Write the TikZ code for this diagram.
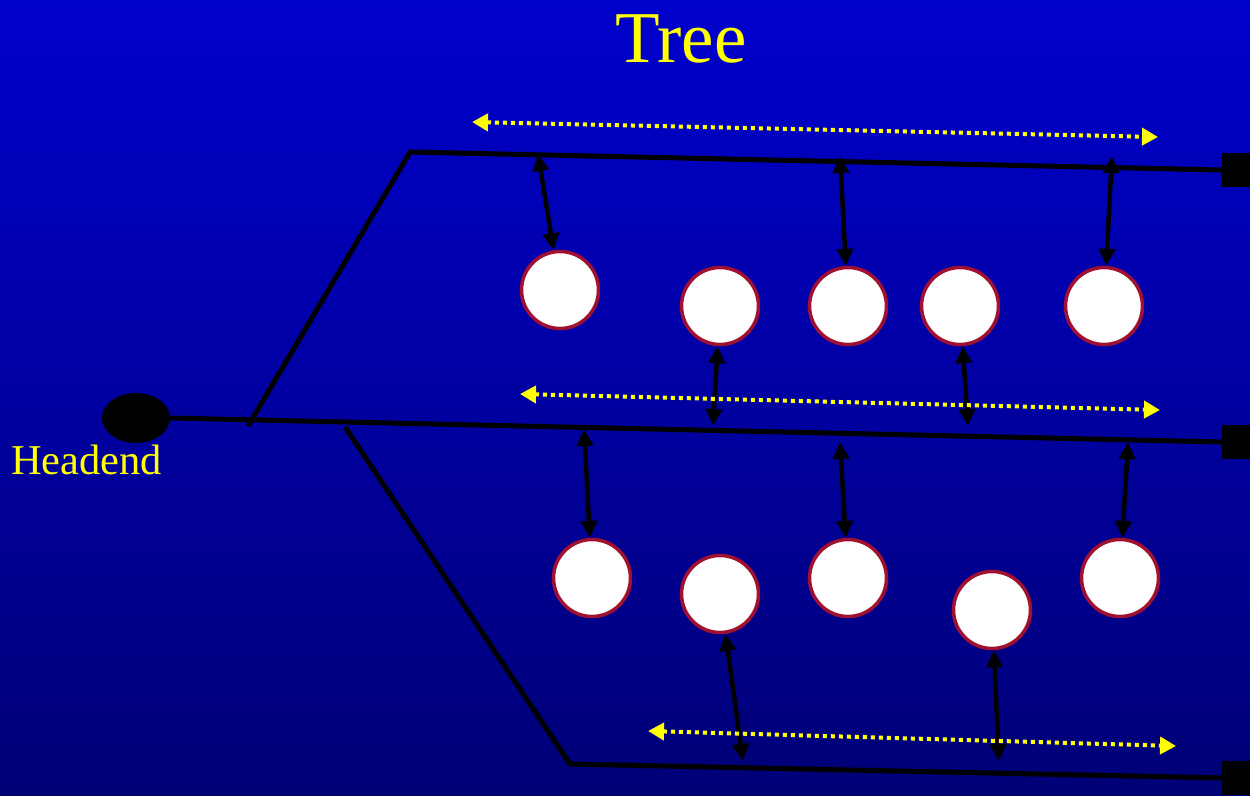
\documentclass[tikz,border=0pt]{standalone}
\usepackage{fontspec}
\setmainfont{Liberation Serif}
\usetikzlibrary{arrows.meta,shapes.geometric}
\definecolor{bgtop}{RGB}{0,0,204}
\definecolor{bgbot}{RGB}{0,0,118}
\definecolor{rim}{RGB}{160,16,48}
\definecolor{ylw}{RGB}{255,255,0}
\tikzset{
  cable/.style={line width=5pt, black},
  station/.style={circle, draw=rim, line width=3.5pt, fill=white, minimum size=77pt, inner sep=0pt},
  link/.style={line width=4.5pt, black, {Triangle[length=17pt,width=16pt]}-{Triangle[length=17pt,width=16pt]}},
  bcast/.style={line width=4pt, ylw, dash pattern=on 4pt off 4pt, {Triangle[length=16pt,width=17pt]}-{Triangle[length=16pt,width=17pt]}},
  term/.style={fill=black, draw=none, minimum width=30pt, minimum height=34pt, inner sep=0pt}
}
\begin{document}
\begin{tikzpicture}[x=1pt,y=-1pt]
\useasboundingbox (0,0) rectangle (1250,795);
\fill[top color=bgtop, bottom color=bgbot] (0,0) rectangle (1250,795);

\node[text=ylw, font=\fontsize{73}{80}\selectfont, anchor=base] (title) at (681,62) {Tree};

% headend
\node[ellipse, fill=black, minimum width=68pt, minimum height=50pt, inner sep=0pt] (he) at (136,418) {};
\node[text=ylw, font=\fontsize{42.5}{46}\selectfont, anchor=base west, inner sep=0pt] (helabel) at (11,474) {Headend};

% terminators
\node[term, anchor=west] (tt) at (1222,170) {};
\node[term, anchor=west] (tm) at (1222,442) {};
\node[term, anchor=north west] (tb) at (1222,761) {};

% cable points
\coordinate (bl) at (345,427);
\coordinate (tl) at (410,152);
\coordinate (ll) at (570,764);
\coordinate (bend) at (1224,778);

\draw[cable] (he.east) -- (tm.west);
\draw[cable] (248,426) -- (tl) -- (tt.west);
\draw[cable] (bl) -- (ll) -- (bend);

% stations
\node[station] (s1) at (560,290) {};
\node[station] (s2) at (720,306) {};
\node[station] (s3) at (848,306) {};
\node[station] (s4) at (960,306) {};
\node[station] (s5) at (1104,306) {};
\node[station] (s6) at (592,578) {};
\node[station] (s7) at (720,594) {};
\node[station] (s8) at (848,578) {};
\node[station] (s9) at (992,610) {};
\node[station] (s10) at (1120,578) {};

% tap points
\coordinate (p1) at (538,154);
\coordinate (p3) at (840,156);
\coordinate (p5) at (1112,156);
\coordinate (p2) at (713,426);
\coordinate (p4) at (968,426);
\coordinate (p6) at (584,429);
\coordinate (p8) at (840,442);
\coordinate (p10) at (1128,442);
\coordinate (p7) at (743,761);
\coordinate (p9) at (999,761);

\draw[link] (p1) -- (s1);
\draw[link] (p3) -- (s3);
\draw[link] (p5) -- (s5);
\draw[link] (s2) -- (p2);
\draw[link] (s4) -- (p4);
\draw[link] (p6) -- (s6);
\draw[link] (p8) -- (s8);
\draw[link] (p10) -- (s10);
\draw[link] (s7) -- (p7);
\draw[link] (s9) -- (p9);

% broadcast arrows
\coordinate (y1a) at (472,122);
\coordinate (y1b) at (1158,137);
\coordinate (y2a) at (520,394);
\coordinate (y2b) at (1160,410);
\coordinate (y3a) at (648,731);
\coordinate (y3b) at (1176,746);
\draw[bcast] (y1a) -- (y1b);
\draw[bcast] (y2a) -- (y2b);
\draw[bcast] (y3a) -- (y3b);
\end{tikzpicture}
\end{document}
